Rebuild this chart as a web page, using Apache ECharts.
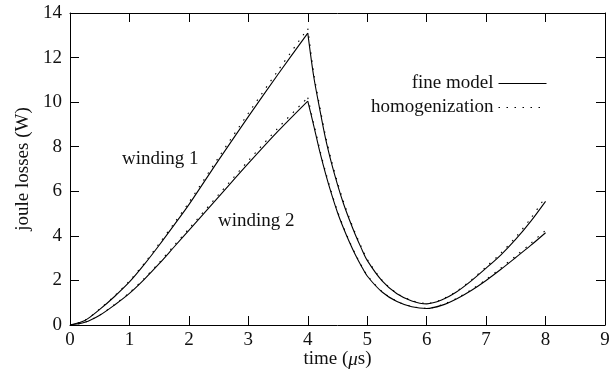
<!DOCTYPE html>
<html>
<head>
<meta charset="utf-8">
<script src="https://cdn.jsdelivr.net/npm/echarts@6/dist/echarts.min.js"></script>
<style>
  html, body { margin: 0; padding: 0; background: #fff; }
  #chart { width: 616px; height: 374px; }
</style>
</head>
<body>
<div id="chart"></div>
<script>
// time axis samples (µs); index 12 is the peak at t = 4
const time = [0, 0.25, 0.5, 0.75, 1, 1.25, 1.5, 1.75, 2, 2.5, 3, 3.5, 4,
  4.1, 4.2, 4.3, 4.4, 4.5, 4.6, 4.7, 4.8, 4.9, 5, 5.25, 5.5, 5.75, 6,
  6.25, 6.5, 6.75, 7, 7.25, 7.5, 7.75, 8]
const peakIndex = 12

// joule losses (W)
const winding1Fine = [0, 0.2, 0.7, 1.28, 1.93, 2.72, 3.58, 4.48, 5.4, 7.4, 9.35, 11.25, 13.1,
  11.15, 9.7, 8.35, 7.25, 6.3, 5.45, 4.72, 4.05, 3.45, 2.9, 1.98, 1.4, 1.08, 0.95,
  1.12, 1.48, 1.98, 2.55, 3.15, 3.85, 4.65, 5.55]
const winding1Homog = [0, 0.21, 0.72, 1.31, 1.98, 2.77, 3.65, 4.56, 5.5, 7.52, 9.5, 11.42, 13.3,
  11.3, 9.83, 8.47, 7.36, 6.4, 5.54, 4.8, 4.12, 3.51, 2.95, 2.01, 1.42, 1.1, 0.97,
  1.14, 1.51, 2.02, 2.61, 3.23, 3.95, 4.78, 5.75]
const winding2Fine = [0, 0.12, 0.44, 0.9, 1.42, 2.05, 2.75, 3.5, 4.25, 5.75, 7.25, 8.7, 10.05,
  8.95, 7.8, 6.78, 5.87, 5.05, 4.35, 3.72, 3.15, 2.65, 2.2, 1.48, 1.05, 0.82, 0.74,
  0.88, 1.17, 1.55, 2.0, 2.5, 3.03, 3.57, 4.14]
const winding2Homog = [0, 0.12, 0.45, 0.92, 1.45, 2.09, 2.8, 3.56, 4.32, 5.85, 7.37, 8.84, 10.2,
  9.05, 7.9, 6.86, 5.94, 5.11, 4.4, 3.76, 3.19, 2.68, 2.23, 1.5, 1.06, 0.83, 0.75,
  0.9, 1.19, 1.58, 2.04, 2.56, 3.1, 3.66, 4.25]

const xTicks = [0, 1, 2, 3, 4, 5, 6, 7, 8, 9]
const yTicks = [0, 2, 4, 6, 8, 10, 12, 14]

const font = 'Liberation Serif'
const ink = '#000'
const textInk = '#111'
const dots = [1.5, 6.5]

// split each curve at the peak so smoothing keeps the corner sharp
const rising = (ys) => time.slice(0, peakIndex + 1).map((t, i) => [t, ys[i]])
const falling = (ys) => time.slice(peakIndex).map((t, i) => [t, ys[i + peakIndex]])

const chart = echarts.init(document.getElementById('chart'))

const axisBase = {
  type: 'value',
  axisLine: { show: true, onZero: false, lineStyle: { color: ink, width: 1 } },
  axisTick: { show: true, inside: true, length: 9, lineStyle: { color: ink, width: 1 } },
  splitLine: { show: false }
}

const curve = (name, data, dotted) => ({
  name: name,
  type: 'line',
  data: data,
  smooth: 0.3,
  symbol: 'none',
  showSymbol: false,
  lineStyle: dotted
    ? { color: ink, width: 1.1, type: dots }
    : { color: ink, width: 1.1 },
  itemStyle: { color: ink },
  animation: false
})

chart.setOption({
  backgroundColor: '#fff',
  animation: false,
  grid: { left: 70, right: 11, top: 13, bottom: 49, outerBoundsMode: 'none', containLabel: false },
  legend: {
    orient: 'vertical',
    right: 64,
    top: 69,
    align: 'right',
    itemWidth: 48,
    itemHeight: 12,
    itemGap: 5,
    data: ['fine model', 'homogenization'],
    itemStyle: { opacity: 0 },
    lineStyle: { width: 1 },
    textStyle: { fontFamily: font, fontSize: 19, color: textInk }
  },
  xAxis: [
    Object.assign({}, axisBase, {
      min: 0, max: 9, interval: 1,
      position: 'bottom',
      name: 'time ({mu|μ}s)',
      nameLocation: 'middle',
      nameGap: 25,
      nameMoveOverlap: false,
      nameTextStyle: {
        fontFamily: font, fontSize: 19, color: textInk,
        rich: { mu: { fontFamily: font, fontSize: 19, fontStyle: 'italic', color: textInk } }
      },
      axisLabel: { fontFamily: font, fontSize: 19, color: textInk, margin: 6,
        formatter: (v) => xTicks.includes(v) ? String(v) : '' }
    }),
    Object.assign({}, axisBase, {
      min: 0, max: 9, interval: 1,
      position: 'top',
      axisLabel: { show: false }
    })
  ],
  yAxis: [
    Object.assign({}, axisBase, {
      min: 0, max: 14, interval: 2,
      position: 'left',
      name: 'joule losses (W)',
      nameLocation: 'middle',
      nameGap: 37,
      nameTextStyle: { fontFamily: font, fontSize: 19, color: textInk },
      axisLabel: { fontFamily: font, fontSize: 19, color: textInk, margin: 8,
        formatter: (v) => yTicks.includes(v) ? String(v) : '' }
    }),
    Object.assign({}, axisBase, {
      min: 0, max: 14, interval: 2,
      position: 'right',
      axisLabel: { show: false }
    })
  ],
  graphic: [
    { type: 'text', left: 122, top: 150,
      style: { text: 'winding 1', fontFamily: font, fontSize: 19, fill: textInk } },
    { type: 'text', left: 218, top: 212,
      style: { text: 'winding 2', fontFamily: font, fontSize: 19, fill: textInk } }
  ],
  series: [
    curve('fine model', rising(winding1Fine), false),
    curve('fine model', falling(winding1Fine), false),
    curve('homogenization', rising(winding1Homog), true),
    curve('homogenization', falling(winding1Homog), true),
    curve('fine model', rising(winding2Fine), false),
    curve('fine model', falling(winding2Fine), false),
    curve('homogenization', rising(winding2Homog), true),
    curve('homogenization', falling(winding2Homog), true)
  ]
})
</script>
</body>
</html>
